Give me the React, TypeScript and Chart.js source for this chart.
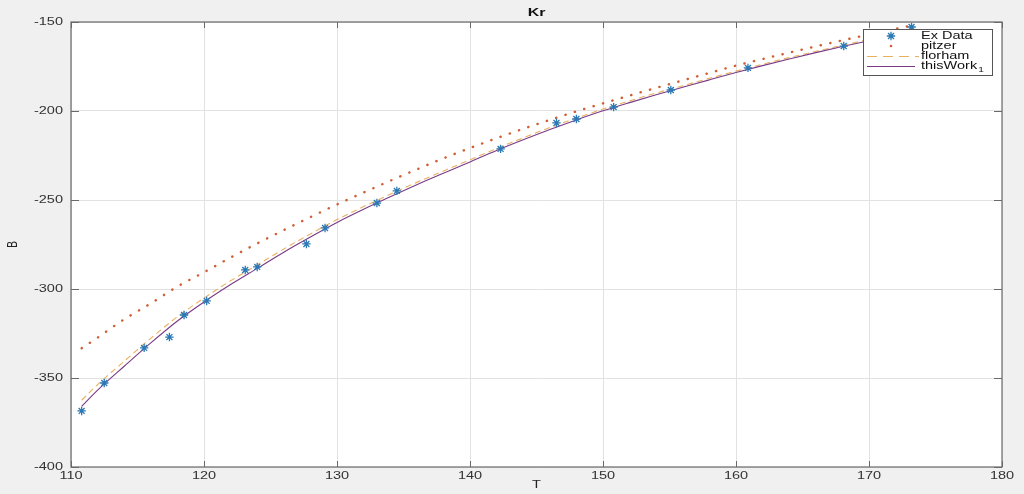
import React, { useEffect, useRef } from "react";
import { Chart, registerables } from "chart.js";

Chart.register(...registerables);

// ---------- data ----------
const TITLE = "Kr";
const X_LABEL = "T";
const Y_LABEL = "B";
const X_TICKS = [110, 120, 130, 140, 150, 160, 170, 180];
const Y_TICKS = [-400, -350, -300, -250, -200, -150];

const EXP_T = [110.8, 112.5, 115.5, 117.4, 118.5, 120.2, 123.1, 124.0, 127.7, 129.1, 133.0, 134.5, 142.3, 146.5, 148.0, 150.8, 155.1, 160.9, 168.1, 173.2];
const EXP_B = [-368.5, -352.8, -333.1, -327.0, -314.6, -306.7, -289.3, -287.6, -274.7, -265.7, -251.7, -244.9, -221.3, -206.7, -204.5, -197.8, -188.2, -175.8, -163.5, -152.8];

const CURVE_T = [110.8, 112, 114, 116, 118, 120, 122, 124, 126, 128, 130, 132, 134, 136, 138, 140, 142, 144, 146, 148, 150, 152, 154, 156, 158, 160, 162, 164, 166, 168, 170, 172, 173.2];
const PITZER_B = [-333.3, -327.3, -317.0, -308.1, -298.6, -290.6, -282.3, -274.4, -266.9, -259.6, -252.5, -245.8, -239.2, -232.8, -226.6, -220.8, -215.3, -210.0, -205.0, -200.2, -195.7, -191.3, -187.0, -182.8, -178.6, -174.5, -170.8, -167.2, -163.7, -160.3, -157.0, -153.8, -152.0];
const FLORHAM_B = [-362.5, -353.7, -340.6, -327.7, -315.6, -305.1, -295.4, -286.5, -277.5, -269.1, -261.0, -253.7, -246.8, -240.1, -233.7, -227.4, -221.1, -215.1, -209.3, -204.0, -198.9, -194.3, -189.9, -185.8, -181.6, -177.6, -173.7, -170.0, -166.5, -163.1, -159.8, -156.7, -154.8];
const THISWORK_B = [-366.0, -356.8, -343.4, -330.3, -318.0, -307.3, -297.5, -288.4, -279.3, -270.8, -262.6, -255.2, -248.2, -241.4, -235.0, -228.6, -222.2, -216.2, -210.4, -205.0, -199.9, -195.3, -190.9, -186.7, -182.5, -178.4, -174.5, -170.8, -167.2, -163.8, -160.5, -157.3, -155.4];

const LEGEND_LABELS = ["Ex Data", "pitzer", "florham", "thisWork"];

// ---------- styles ----------
const C_EXP = "#2a78b4";
const C_PITZER = "#cf5f33";
const C_FLORHAM = "#e8b060";
const C_THIS = "#7a3a86";
const FONT = '"Liberation Sans", Arial, Helvetica, sans-serif';
const SX = 1.45;

function drawText(
  ctx: CanvasRenderingContext2D,
  text: string,
  x: number,
  y: number,
  font: string,
  align: CanvasTextAlign,
  color: string,
  rotate = false
) {
  ctx.save();
  ctx.translate(x, y);
  ctx.scale(SX, 1);
  if (rotate) ctx.rotate(-Math.PI / 2);
  ctx.font = font;
  ctx.textAlign = align;
  ctx.textBaseline = "middle";
  ctx.fillStyle = color;
  ctx.fillText(text, 0, 0);
  ctx.restore();
}

function drawStar(ctx: CanvasRenderingContext2D, x: number, y: number, r: number) {
  ctx.save();
  ctx.strokeStyle = C_EXP;
  ctx.lineWidth = 1.3;
  ctx.beginPath();
  for (let k = 0; k < 4; k++) {
    const a = (k * Math.PI) / 4;
    ctx.moveTo(x - r * Math.cos(a), y - r * Math.sin(a));
    ctx.lineTo(x + r * Math.cos(a), y + r * Math.sin(a));
  }
  ctx.stroke();
  ctx.restore();
}

const framePlugin = {
  id: "matlabFrame",
  beforeDraw(chart: any) {
    const { ctx, chartArea: a } = chart;
    ctx.save();
    ctx.fillStyle = "#f0f0f0";
    ctx.fillRect(0, 0, chart.width, chart.height);
    ctx.fillStyle = "#ffffff";
    ctx.fillRect(a.left, a.top, a.right - a.left, a.bottom - a.top);
    ctx.restore();
  },
  afterDraw(chart: any) {
    const { ctx, chartArea: a } = chart;
    const xs = chart.scales.x;
    const ys = chart.scales.y;
    ctx.save();
    ctx.strokeStyle = "#6a6a6a";
    ctx.lineWidth = 1.2;
    ctx.strokeRect(a.left, a.top, a.right - a.left, a.bottom - a.top);
    ctx.lineWidth = 1;
    ctx.beginPath();
    X_TICKS.forEach((v) => {
      const px = Math.round(xs.getPixelForValue(v)) + 0.5;
      ctx.moveTo(px, a.bottom);
      ctx.lineTo(px, a.bottom - 6);
      ctx.moveTo(px, a.top);
      ctx.lineTo(px, a.top + 6);
    });
    Y_TICKS.forEach((v) => {
      const py = Math.round(ys.getPixelForValue(v)) + 0.5;
      ctx.moveTo(a.left, py);
      ctx.lineTo(a.left + 8, py);
      ctx.moveTo(a.right, py);
      ctx.lineTo(a.right - 8, py);
    });
    ctx.stroke();
    ctx.restore();

    const tickFont = `10px ${FONT}`;
    X_TICKS.forEach((v) => {
      drawText(ctx, String(v), xs.getPixelForValue(v), a.bottom + 9, tickFont, "center", "#333");
    });
    Y_TICKS.forEach((v) => {
      drawText(ctx, String(v), a.left - 8, ys.getPixelForValue(v), tickFont, "right", "#333");
    });
    drawText(ctx, TITLE, (a.left + a.right) / 2, 13, `bold 11px ${FONT}`, "center", "#111");
    drawText(ctx, X_LABEL, (a.left + a.right) / 2, 485, `10px ${FONT}`, "center", "#222");
    drawText(ctx, Y_LABEL, 13, (a.top + a.bottom) / 2, `10px ${FONT}`, "center", "#222", true);

    // legend
    const L = 863, T = 29, R = 992, B = 75;
    ctx.save();
    ctx.fillStyle = "#ffffff";
    ctx.fillRect(L, T, R - L, B - T);
    ctx.strokeStyle = "#555";
    ctx.lineWidth = 1;
    ctx.strokeRect(L + 0.5, T + 0.5, R - L, B - T);
    ctx.restore();
    const rows = [36, 46, 56, 66];
    const sx0 = 867, sx1 = 915, sxm = 891, tx = 921;
    drawStar(ctx, sxm, rows[0], 4.2);
    ctx.save();
    ctx.fillStyle = C_PITZER;
    ctx.beginPath();
    ctx.arc(sxm, rows[1], 1.3, 0, Math.PI * 2);
    ctx.fill();
    ctx.strokeStyle = C_FLORHAM;
    ctx.lineWidth = 1;
    ctx.setLineDash([10, 6]);
    ctx.beginPath();
    ctx.moveTo(sx0, rows[2] + 0.5);
    ctx.lineTo(sx1 + 4, rows[2] + 0.5);
    ctx.stroke();
    ctx.setLineDash([]);
    ctx.strokeStyle = C_THIS;
    ctx.beginPath();
    ctx.moveTo(sx0, rows[3] + 0.5);
    ctx.lineTo(sx1, rows[3] + 0.5);
    ctx.stroke();
    ctx.restore();
    const lf = `10px ${FONT}`;
    LEGEND_LABELS.forEach((lab, i) => {
      drawText(ctx, lab, tx, rows[i], lf, "left", "#111");
    });
    ctx.save();
    ctx.font = lf;
    const w = ctx.measureText(LEGEND_LABELS[3]).width * SX;
    ctx.restore();
    drawText(ctx, "1", tx + w + 1, rows[3] + 4, `7px ${FONT}`, "left", "#111");
  },
};

export default function App() {
  const ref = useRef<HTMLCanvasElement>(null);

  useEffect(() => {
    if (!ref.current) return;
    const toXY = (xs: number[], ys: number[]) => xs.map((x, i) => ({ x, y: ys[i] }));
    const chart = new Chart(ref.current, {
      type: "scatter",
      data: {
        datasets: [
          {
            label: LEGEND_LABELS[0],
            data: toXY(EXP_T, EXP_B),
            showLine: false,
            pointStyle: "star",
            pointRadius: 4.2,
            pointBorderWidth: 1.3,
            borderColor: C_EXP,
            backgroundColor: C_EXP,
          },
          {
            label: LEGEND_LABELS[3],
            data: toXY(CURVE_T, THISWORK_B),
            showLine: true,
            pointRadius: 0,
            borderColor: C_THIS,
            borderWidth: 1.1,
            cubicInterpolationMode: "monotone",
          },
          {
            label: LEGEND_LABELS[2],
            data: toXY(CURVE_T, FLORHAM_B),
            showLine: true,
            pointRadius: 0,
            borderColor: C_FLORHAM,
            borderWidth: 1.1,
            borderDash: [6, 4],
            cubicInterpolationMode: "monotone",
          },
          {
            label: LEGEND_LABELS[1],
            data: toXY(CURVE_T, PITZER_B),
            showLine: true,
            pointRadius: 0,
            borderColor: C_PITZER,
            borderWidth: 2.4,
            borderDash: [0.3, 9.5],
            borderCapStyle: "round",
            cubicInterpolationMode: "monotone",
          },
        ],
      } as any,
      options: {
        responsive: false,
        animation: false,
        devicePixelRatio: 1,
        layout: { padding: { top: 22, right: 22, left: 0, bottom: 0 } },
        plugins: {
          legend: { display: false },
          tooltip: { enabled: false },
          title: { display: false },
        },
        scales: {
          x: {
            type: "linear",
            min: 110,
            max: 180,
            ticks: { stepSize: 10, display: false },
            grid: { color: "#e2e2e2", drawTicks: false, lineWidth: 1 },
            border: { display: false },
            afterFit: (s: any) => {
              s.height = 27;
            },
          },
          y: {
            type: "linear",
            min: -400,
            max: -150,
            ticks: { stepSize: 50, display: false },
            grid: { color: "#e2e2e2", drawTicks: false, lineWidth: 1 },
            border: { display: false },
            afterFit: (s: any) => {
              s.width = 71;
            },
          },
        },
      } as any,
      plugins: [framePlugin],
    });
    return () => chart.destroy();
  }, []);

  return (
    <div style={{ position: "fixed", left: 0, top: 0, width: 1024, height: 494, background: "#f0f0f0" }}>
      <canvas ref={ref} width={1024} height={494} style={{ display: "block", width: 1024, height: 494 }} />
    </div>
  );
}
